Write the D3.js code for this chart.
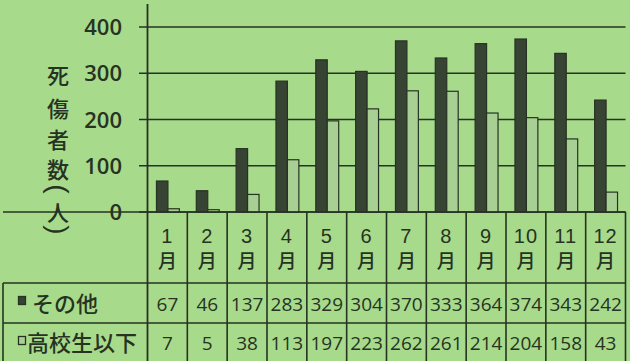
<!DOCTYPE html>
<html>
<head>
<meta charset="utf-8">
<script src="https://cdn.jsdelivr.net/npm/d3@7"></script>
<style>
  body { margin:0; background:#a8da8c; }
  svg { display:block; }
</style>
</head>
<body>
<svg id="chart"></svg>
<script>
let months = ['1','2','3','4','5','6','7','8','9','10','11','12']
let seriesNames = ['その他','高校生以下']
let others = [67,46,137,283,329,304,370,333,364,374,343,242]
let youth = [7,5,38,113,197,223,262,261,214,204,158,43]
let yTicks = [0,100,200,300,400]
let titleChars = ['死','傷','者','数','(','人',')']

let width = 630
let height = 361
let ink = '#263322'
let svg = d3.select('#chart').attr('width', width).attr('height', height)

let left = 147.5
let right = 625.5
let base = 212

let xScale = d3.scaleBand().domain(months).range([left, right]).padding(0)
let inner = d3.scaleBand().domain([0,1]).range([0, xScale.bandwidth()]).paddingOuter(0.74).paddingInner(0)
let yScale = d3.scaleLinear().domain([0,400]).range([base, 27])

// gridlines
svg.append('g').selectAll('line').data(yTicks).enter().append('line')
  .attr('x1', 139).attr('x2', right)
  .attr('y1', d => yScale(d)).attr('y2', d => yScale(d))
  .attr('stroke', ink).attr('stroke-width', 1.6)

// y labels
svg.append('g').selectAll('text').data(yTicks).enter().append('text')
  .attr('x', 122).attr('y', d => yScale(d) + 8)
  .attr('text-anchor', 'end')
  .attr('font-family', 'Open Sans, sans-serif').attr('font-size', 22).attr('font-weight', 600)
  .attr('fill', ink).text(d => d)

// y title (parens turned for vertical writing)
let isParen = d => d == '(' || d == ')'
let titleY = [74, 107, 138, 168, 189, 211, 230]
svg.append('g').selectAll('text').data(titleChars).enter().append('text')
  .attr('transform', (d,i) => 'translate(58,' + titleY[i] + ')' + (isParen(d) ? ' rotate(90)' : ''))
  .attr('text-anchor', 'middle').attr('dominant-baseline', 'central')
  .attr('font-family', d => isParen(d) ? 'Liberation Sans' : 'Noto Sans CJK JP')
  .attr('font-size', d => isParen(d) ? 28 : 22)
  .attr('font-weight', d => isParen(d) ? 400 : 500)
  .attr('fill', ink).text(d => d)

// bars
let rows = months.map((m,i) => ({m:m, vals:[others[i], youth[i]]}))
let groups = svg.append('g').selectAll('g').data(rows).enter().append('g')
  .attr('transform', d => 'translate(' + (xScale(d.m) + 0.5) + ',0)')
groups.selectAll('rect').data(d => d.vals.map((v,k) => ({k:k, v:v}))).enter().append('rect')
  .attr('x', d => inner(d.k))
  .attr('width', inner.bandwidth())
  .attr('y', d => yScale(d.v))
  .attr('height', d => base - yScale(d.v))
  .attr('fill', d => d.k == 0 ? '#374433' : '#a9d094')
  .attr('stroke', ink).attr('stroke-width', 1.2)

// axis line
svg.append('line').attr('x1', left).attr('x2', left).attr('y1', 4).attr('y2', height)
  .attr('stroke', ink).attr('stroke-width', 1.8)

// table
let table = svg.append('g').attr('stroke', ink).attr('stroke-width', 1.6)
table.selectAll('line.v').data(months.slice(1)).enter().append('line')
  .attr('x1', d => xScale(d)).attr('x2', d => xScale(d))
  .attr('y1', base).attr('y2', height)
table.append('line').attr('x1', right).attr('x2', right).attr('y1', base).attr('y2', height)
table.append('line').attr('x1', 3).attr('x2', 3).attr('y1', 283).attr('y2', height)
table.append('line').attr('x1', 3).attr('x2', right).attr('y1', 283).attr('y2', 283)
table.append('line').attr('x1', 3).attr('x2', right).attr('y1', 323).attr('y2', 323)
table.append('line').attr('x1', 3).attr('x2', right).attr('y1', base).attr('y2', base)

// month header
let head = svg.append('g').attr('text-anchor', 'middle').attr('fill', ink)
head.selectAll('text.n').data(months).enter().append('text')
  .attr('x', d => xScale(d) + xScale.bandwidth()/2).attr('y', 243)
  .attr('font-family', 'Liberation Sans, sans-serif').attr('font-size', 20)
  .attr('letter-spacing', 1)
  .text(d => d)
head.selectAll('text.m').data(months).enter().append('text')
  .attr('x', d => xScale(d) + xScale.bandwidth()/2).attr('y', 268)
  .attr('font-family', 'Noto Sans CJK JP').attr('font-size', 19).attr('font-weight', 500)
  .text('月')

// value rows
let series = [others, youth]
let rowY = [311, 350]
series.forEach((s, k) => {
  svg.append('g').selectAll('text').data(s).enter().append('text')
    .attr('x', (d,i) => xScale(months[i]) + xScale.bandwidth()/2)
    .attr('y', rowY[k])
    .attr('text-anchor', 'middle')
    .attr('font-family', 'Open Sans, sans-serif').attr('font-size', 19).attr('font-weight', 500)
    .attr('fill', ink).text(d => d)
})

// legend labels
let legY = [296, 336]
svg.append('g').selectAll('rect').data(seriesNames).enter().append('rect')
  .attr('x', 18.5).attr('y', (d,i) => legY[i] + 0.5)
  .attr('width', 7).attr('height', 8)
  .attr('fill', (d,i) => i == 0 ? '#374433' : '#a9d094')
  .attr('stroke', ink).attr('stroke-width', 1.3)
svg.append('g').selectAll('text').data(seriesNames).enter().append('text')
  .attr('x', (d,i) => i == 0 ? 32 : 27).attr('y', (d,i) => rowY[i] + 1)
  .attr('font-family', 'Noto Sans CJK JP').attr('font-size', 22).attr('font-weight', 500)
  .attr('fill', ink).text(d => d)
</script>
</body>
</html>
